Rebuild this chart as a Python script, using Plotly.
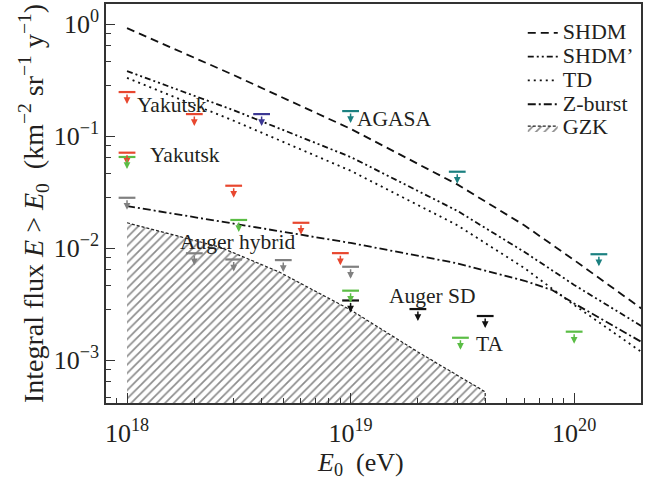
import numpy as np
import plotly.graph_objects as go

# ---------------- data ----------------
# model curves: energy (eV) and integral flux (km^-2 sr^-1 yr^-1)
shdm_E = [1e18, 3e18, 1e19, 3e19, 6e19, 1e20, 2e20]
shdm_F = [0.92, 0.35, 0.116, 0.037, 0.0159, 0.0078, 0.00288]

shdmp_E = [1e18, 3e18, 1e19, 3e19, 6e19, 1e20, 2e20]
shdmp_F = [0.38, 0.17, 0.065, 0.0215, 0.0092, 0.00468, 0.00201]

td_E = [1e18, 3e18, 1e19, 3e19, 6e19, 1e20, 2e20]
td_F = [0.33, 0.137, 0.049, 0.016, 0.0066, 0.0031, 0.00118]

zb_E = [1e18, 3e18, 1e19, 3e19, 6e19, 8e19, 1e20, 2e20]
zb_F = [0.0237, 0.0166, 0.0111, 0.0073, 0.0051, 0.0042, 0.0032, 0.00145]

gzk_E = [1e18, 2.6e18, 4.8e18, 1e19, 2e19, 4e19]
gzk_F = [0.0168, 0.0102, 0.0061, 0.0028, 0.00118, 0.00052]
gzk_floor = 1e-4

# upper limits (bar position)
red_E = [1e18, 1e18, 2e18, 3e18, 6e18, 9e18]
red_F = [0.247, 0.071, 0.157, 0.036, 0.0168, 0.0090]

green_E = [1e18, 3.16e18, 1e19, 3.1e19, 1e20]
green_F = [0.065, 0.0178, 0.00416, 0.00158, 0.00179]

gray_E = [1e18, 2e18, 3e18, 5e18, 1e19]
gray_F = [0.0281, 0.00897, 0.0079, 0.0078, 0.0068]

navy_E = [4e18]
navy_F = [0.157]

teal_E = [1e19, 3e19, 1.29e20]
teal_F = [0.167, 0.048, 0.0088]

black_E = [1e19, 2e19, 4e19]
black_F = [0.0034, 0.00285, 0.00247]

x_ticks = [1e18, 1e19, 1e20]
x_ticktext = ["10<sup>18</sup>", "10<sup>19</sup>", "10<sup>20</sup>"]
y_ticks = [1, 0.1, 0.01, 0.001]
y_ticktext = ["10<sup>0</sup>", "10<sup>\u22121</sup>", "10<sup>\u22122</sup>", "10<sup>\u22123</sup>"]
y_minor = [d * m for d in [1e-4, 1e-3, 1e-2, 1e-1] for m in [2.8, 4.6, 6.4, 8.2]]

FONT = "Liberation Serif"
TXT = "#231f20"


def leg(t):
    return "<span style='font-size:22px'>" + t + "</span>"


fig = go.Figure()

# GZK hatched region
fig.add_trace(go.Scatter(
    x=gzk_E + [gzk_E[-1], gzk_E[0]],
    y=gzk_F + [gzk_floor, gzk_floor],
    mode="lines", fill="toself", name=leg("GZK"), legendrank=5,
    line=dict(color="#222", width=1.2, dash="3px,2px"),
    fillcolor="white",
    fillpattern=dict(shape="/", fgcolor="#1a1a1a", bgcolor="white", size=6, solidity=0.28),
))

curves = [
    ("SHDM", shdm_E, shdm_F, "8px,5px", 1),
    ("SHDM\u2019", shdmp_E, shdmp_F, "6px,3px,2px,3px,2px,3px", 2),
    ("TD", td_E, td_F, "2px,4px", 3),
    ("Z-burst", zb_E, zb_F, "8px,3px,2px,3px", 4),
]
for name, xs, ys, dash, rank in curves:
    fig.add_trace(go.Scatter(x=xs, y=ys, mode="lines", name=leg(name), legendrank=rank,
                             line=dict(color="#111", width=1.8, dash=dash)))

groups = [
    (red_E, red_F, "#e8472f"),
    (green_E, green_F, "#5bbd45"),
    (gray_E, gray_F, "#808080"),
    (navy_E, navy_F, "#3b3793"),
    (teal_E, teal_F, "#1b8080"),
    (black_E, black_F, "#111111"),
]
annotations = []
for xs, ys, col in groups:
    fig.add_trace(go.Scatter(x=xs, y=ys, mode="markers", showlegend=False,
                             marker=dict(symbol="line-ew", size=12,
                                         line=dict(width=2.2, color=col))))
    for xv, yv in zip(xs, ys):
        annotations.append(dict(
            x=np.log10(xv), y=np.log10(yv), xref="x", yref="y", text="",
            showarrow=True, ax=0, ay=-11, yshift=-12,
            arrowhead=2, arrowsize=0.9, arrowwidth=1.5, arrowcolor=col))

labels = [
    ("Yakutsk", 18.201, -0.723),
    ("Yakutsk", 18.259, -1.170),
    ("AGASA", 19.196, -0.848),
    ("Auger hybrid", 18.496, -1.946),
    ("Auger SD", 19.366, -2.429),
    ("TA", 19.621, -2.857),
]
for t, lx, ly in labels:
    annotations.append(dict(x=lx, y=ly, xref="x", yref="y", text=t, showarrow=False,
                            font=dict(family=FONT, size=21.5, color=TXT)))

# x-axis title
annotations.append(dict(x=0.475, y=-0.152, xref="paper", yref="paper", showarrow=False,
                        text="<i>E</i><sub>0</sub>  (eV)", yanchor="middle",
                        font=dict(family=FONT, size=26, color=TXT)))

fig.update_layout(
    width=651, height=482,
    margin=dict(l=106, r=10, t=4, b=79),
    paper_bgcolor="white", plot_bgcolor="white",
    font=dict(family=FONT, color=TXT),
    annotations=annotations,
    legend=dict(x=0.779, y=0.97, xanchor="left", yanchor="top",
                bgcolor="rgba(0,0,0,0)", font=dict(family=FONT, size=16, color=TXT),
                tracegroupgap=0, itemwidth=30),
)
fig.update_xaxes(
    type="log", range=[17.906, 20.299], automargin=False,
    tickvals=x_ticks, ticktext=x_ticktext, ticklabelstandoff=6,
    ticks="inside", ticklen=10, tickwidth=1.2, tickcolor="#333",
    minor=dict(ticks="inside", ticklen=5, dtick="D1", tickcolor="#333", showgrid=False),
    showline=True, mirror=True, linecolor="#333", linewidth=1.5, showgrid=False,
    zeroline=False,
    tickfont=dict(family=FONT, size=26, color=TXT),
)
fig.update_yaxes(
    type="log", range=[-3.384, 0.179], automargin=False,
    tickvals=y_ticks, ticktext=y_ticktext,
    ticks="inside", ticklen=9, tickwidth=1.2, tickcolor="#333",
    minor=dict(ticks="inside", ticklen=5, tickvals=y_minor, tickcolor="#333", showgrid=False),
    showline=True, mirror=True, linecolor="#333", linewidth=1.5, showgrid=False,
    zeroline=False,
    tickfont=dict(family=FONT, size=26, color=TXT),
    title=dict(text="Integral flux <i>E</i> > <i>E</i><sub>0</sub>  (km<sup>\u22122</sup> sr<sup>\u22121</sup> y<sup>\u22121</sup>)",
               font=dict(family=FONT, size=28, color=TXT), standoff=2),
)

fig.write_html("out.html", config={"displayModeBar": False},
               post_script="document.body.style.margin='0px';")
